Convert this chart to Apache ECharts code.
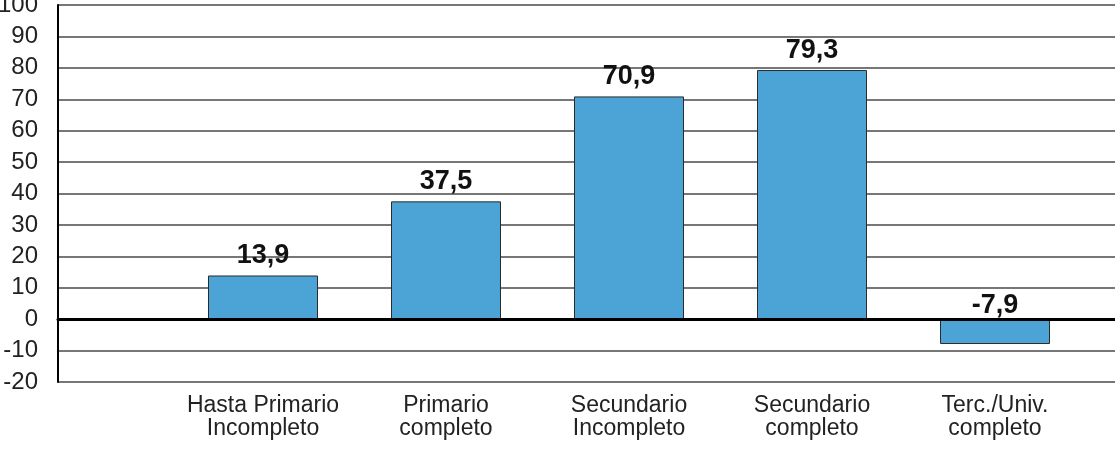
<!DOCTYPE html>
<html>
<head>
<meta charset="utf-8">
<style>
html,body{margin:0;padding:0;background:#fff;}
#chart{width:1115px;height:458px;}
</style>
<script src="https://cdn.jsdelivr.net/npm/echarts@6/dist/echarts.min.js"></script>
</head>
<body>
<div id="chart"></div>
<script>
var categories = ['Hasta Primario\nIncompleto', 'Primario\ncompleto', 'Secundario\nIncompleto', 'Secundario\ncompleto', 'Terc./Univ.\ncompleto'];
var values = [13.9, 37.5, 70.9, 79.3, -7.9];
var yMin = -20, yMax = 100, yStep = 10;

var chart = echarts.init(document.getElementById('chart'));
var fmt = function (v) { return v.toFixed(1).replace('.', ','); };

var barData = values.map(function (v) {
  return v < 0 ? { value: v, label: { distance: 0 } } : v;
});

chart.setOption({
  animation: false,
  backgroundColor: '#fff',
  grid: [
    { left: 58, right: 0, top: 5, bottom: 76, containLabel: false, outerBoundsMode: 'none' },
    { left: 171.5, right: 28.5, top: 5, bottom: 76, containLabel: false, outerBoundsMode: 'none' }
  ],
  xAxis: [
    {
      gridIndex: 0, type: 'category', data: [''], z: 5,
      axisLine: { show: true, onZero: true, lineStyle: { color: '#000', width: 3 } },
      axisTick: { show: false }, axisLabel: { show: false }, splitLine: { show: false }
    },
    {
      gridIndex: 1, type: 'category', data: categories,
      axisLine: { show: false }, axisTick: { show: false },
      axisLabel: {
        margin: 12, color: '#222', fontFamily: 'Liberation Sans, Arial, sans-serif',
        fontSize: 23, lineHeight: 23, interval: 0, align: 'center'
      }
    }
  ],
  yAxis: [
    {
      gridIndex: 0, type: 'value', min: yMin, max: yMax, interval: yStep,
      axisLine: { show: true, lineStyle: { color: '#000', width: 2 } },
      axisTick: { show: false },
      axisLabel: { margin: 20, color: '#222', fontFamily: 'Liberation Sans, Arial, sans-serif', fontSize: 24 },
      splitLine: { show: true, lineStyle: { color: '#4a4a4a', width: 1.5 } }
    },
    {
      gridIndex: 1, type: 'value', min: yMin, max: yMax, interval: yStep, show: false,
      splitLine: { show: false }
    }
  ],
  series: [{
    type: 'bar', xAxisIndex: 1, yAxisIndex: 1, data: barData, barWidth: 110,
    itemStyle: { color: '#4ca4d6', borderColor: '#2b2b2b', borderWidth: 1 },
    label: {
      show: true, position: 'top', distance: 6,
      formatter: function (p) { return fmt(p.value); },
      color: '#111', fontWeight: 'bold', fontSize: 27,
      fontFamily: 'Liberation Sans, Arial, sans-serif'
    }
  }]
});
</script>
</body>
</html>
